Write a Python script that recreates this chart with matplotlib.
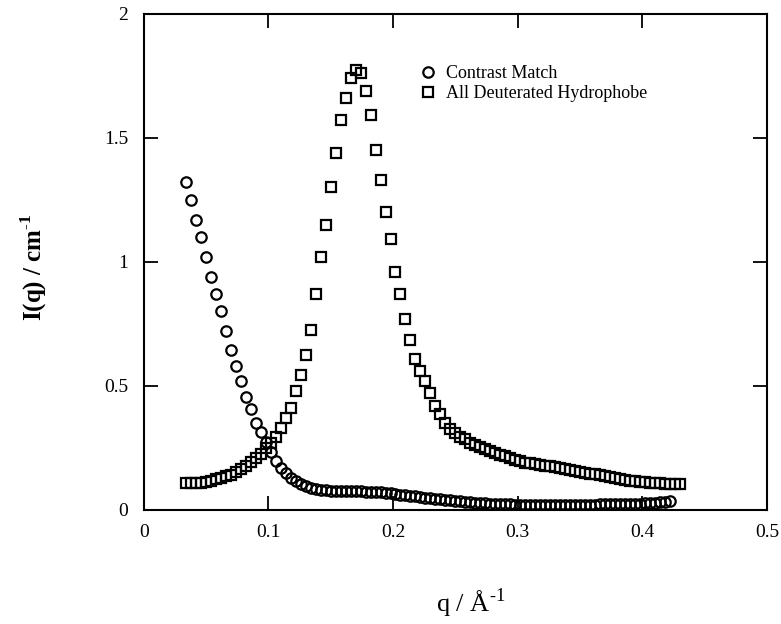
import matplotlib
matplotlib.use('Agg')
import matplotlib.pyplot as plt

plt.rcParams['font.family'] = ['Liberation Serif', 'DejaVu Serif']
plt.rcParams['mathtext.fontset'] = 'custom'
plt.rcParams['mathtext.rm'] = 'Liberation Serif'
plt.rcParams['mathtext.bf'] = 'Liberation Serif:bold'

# q grid (1/A), shared by both data sets
q = [0.034, 0.038, 0.042, 0.046, 0.050, 0.054, 0.058, 0.062, 0.066, 0.070,
     0.074, 0.078, 0.082, 0.086, 0.090, 0.094, 0.098, 0.102, 0.106, 0.110,
     0.114, 0.118, 0.122, 0.126, 0.130, 0.134, 0.138, 0.142, 0.146, 0.150,
     0.154, 0.158, 0.162, 0.166, 0.170, 0.174, 0.178, 0.182, 0.186, 0.190,
     0.194, 0.198, 0.202, 0.206, 0.210, 0.214, 0.218, 0.222, 0.226, 0.230,
     0.234, 0.238, 0.242, 0.246, 0.250, 0.254, 0.258, 0.262, 0.266, 0.270,
     0.274, 0.278, 0.282, 0.286, 0.290, 0.294, 0.298, 0.302, 0.306, 0.310,
     0.314, 0.318, 0.322, 0.326, 0.330, 0.334, 0.338, 0.342, 0.346, 0.350,
     0.354, 0.358, 0.362, 0.366, 0.370, 0.374, 0.378, 0.382, 0.386, 0.390,
     0.394, 0.398, 0.402, 0.406, 0.410, 0.414, 0.418, 0.422, 0.426, 0.430]

# All deuterated hydrophobe (squares)
I_deut = [0.108, 0.107, 0.108, 0.110, 0.113, 0.117, 0.123, 0.128, 0.135, 0.142,
          0.154, 0.165, 0.178, 0.192, 0.208, 0.226, 0.248, 0.268, 0.295, 0.330,
          0.370, 0.410, 0.480, 0.545, 0.625, 0.725, 0.870, 1.020, 1.150, 1.300,
          1.440, 1.570, 1.660, 1.740, 1.775, 1.760, 1.690, 1.590, 1.450, 1.330,
          1.200, 1.090, 0.960, 0.870, 0.770, 0.685, 0.610, 0.560, 0.520, 0.470,
          0.420, 0.385, 0.350, 0.325, 0.310, 0.295, 0.285, 0.270, 0.260, 0.252,
          0.245, 0.238, 0.230, 0.222, 0.215, 0.208, 0.200, 0.195, 0.190, 0.187,
          0.184, 0.181, 0.178, 0.175, 0.172, 0.168, 0.164, 0.160, 0.156, 0.152,
          0.149, 0.146, 0.143, 0.140, 0.137, 0.133, 0.128, 0.123, 0.120, 0.118,
          0.116, 0.114, 0.112, 0.110, 0.108, 0.107, 0.106, 0.105, 0.104, 0.104]

# Contrast match (circles), first 98 q points
I_cm = [1.320, 1.250, 1.170, 1.100, 1.020, 0.940, 0.870, 0.800, 0.720, 0.645,
        0.580, 0.520, 0.455, 0.405, 0.350, 0.315, 0.275, 0.235, 0.195, 0.170,
        0.150, 0.130, 0.115, 0.105, 0.095, 0.088, 0.083, 0.080, 0.078, 0.077,
        0.076, 0.076, 0.075, 0.075, 0.075, 0.074, 0.073, 0.072, 0.071, 0.070,
        0.068, 0.066, 0.063, 0.060, 0.058, 0.056, 0.054, 0.051, 0.048, 0.046,
        0.044, 0.042, 0.040, 0.038, 0.036, 0.034, 0.032, 0.030, 0.028, 0.027,
        0.026, 0.025, 0.024, 0.023, 0.022, 0.022, 0.021, 0.021, 0.020, 0.020,
        0.020, 0.020, 0.020, 0.020, 0.020, 0.020, 0.020, 0.020, 0.020, 0.020,
        0.021, 0.021, 0.021, 0.022, 0.022, 0.022, 0.023, 0.023, 0.024, 0.024,
        0.025, 0.025, 0.026, 0.027, 0.028, 0.030, 0.032, 0.034]

fig = plt.figure(figsize=(7.81, 6.24), dpi=100)
ax = fig.add_axes([0.184, 0.183, 0.798, 0.795])

ax.plot(q[:len(I_cm)], I_cm, linestyle='none', marker='o', markersize=7.5,
        markerfacecolor='none', markeredgecolor='black', markeredgewidth=1.6,
        label='Contrast Match')
ax.plot(q, I_deut, linestyle='none', marker='s', markersize=7.5,
        markerfacecolor='none', markeredgecolor='black', markeredgewidth=1.6,
        label='All Deuterated Hydrophobe')

ax.set_xlim(0, 0.5)
ax.set_ylim(0, 2)
ax.set_xticks([0, 0.1, 0.2, 0.3, 0.4, 0.5])
ax.set_xticklabels(['0', '0.1', '0.2', '0.3', '0.4', '0.5'])
ax.set_yticks([0, 0.5, 1, 1.5, 2])
ax.set_yticklabels(['0', '0.5', '1', '1.5', '2'])
ax.tick_params(direction='in', length=10, width=1.3, top=True, right=True,
               labelsize=14)
ax.tick_params(axis='x', pad=10)
ax.tick_params(axis='y', pad=11)
for s in ax.spines.values():
    s.set_linewidth(1.5)

# axis titles placed on the figure
fig.text(0.603, 0.019, 'q / \u00c5$^{\u2010 1}$', fontsize=19,
         ha='center', va='baseline')
fig.text(0.043, 0.572, 'I(q) / cm$^{\u2010 \\mathbf{1}}$', fontsize=18,
         fontweight='bold', rotation=90, ha='center', va='center')

ax.legend(loc='upper left', bbox_to_anchor=(0.427, 0.914), frameon=False,
          fontsize=13, borderpad=0, handlelength=1.0, handletextpad=0.5,
          labelspacing=0.15, numpoints=1)

fig.savefig('out.png', dpi=100)
